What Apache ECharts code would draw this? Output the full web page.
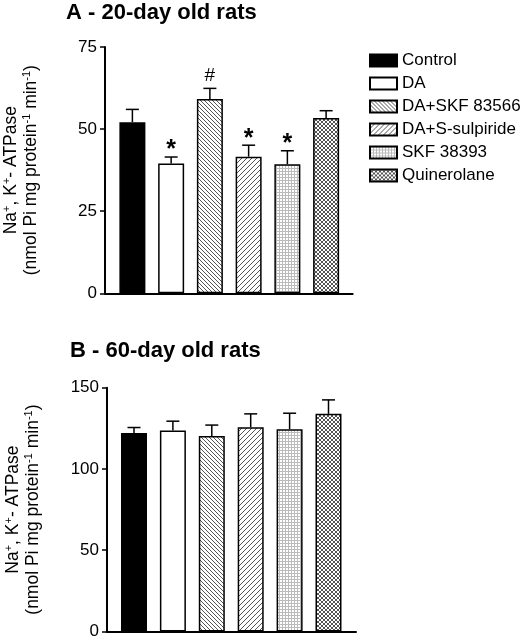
<!DOCTYPE html>
<html>
<head>
<meta charset="utf-8">
<script src="https://cdn.jsdelivr.net/npm/echarts@6/dist/echarts.min.js"></script>
<style>
html,body{margin:0;padding:0;background:#fff;}
#chart{width:522px;height:640px;}
</style>
</head>
<body>
<div id="chart"></div>
<script>
// ---- data ----
var groups = ['Control', 'DA', 'DA+SKF 83566', 'DA+S-sulpiride', 'SKF 38393', 'Quinerolane'];
var positions = [1, 2, 3, 4, 5, 6];
var day20Mean = [52.1, 39.5, 59.2, 41.6, 39.3, 53.4];
var day20Err = [3.9, 2.0, 3.2, 3.5, 4.1, 2.2];
var day20Marks = ['', '*', '#', '*', '*', ''];
var day60Mean = [122.1, 123.7, 120.3, 125.7, 124.5, 133.9];
var day60Err = [3.4, 5.7, 6.7, 8.2, 9.8, 8.6];
var day60Marks = ['', '', '', '', '', ''];
var yTicksA = [0, 25, 50, 75];
var yTicksB = [0, 50, 100, 150];

var FONT = '"Liberation Sans", Arial, Helvetica, sans-serif';

function makePattern(size, draw) {
  var c = document.createElement('canvas');
  c.width = size; c.height = size;
  var ctx = c.getContext('2d');
  ctx.fillStyle = '#fff';
  ctx.fillRect(0, 0, size, size);
  draw(ctx, size);
  return { image: c, repeat: 'repeat' };
}
function px(ctx, x, y, col) { ctx.fillStyle = col; ctx.fillRect(x, y, 1, 1); }

var fills = [
  '#000',
  '#fff',
  makePattern(4, function (ctx, s) { for (var i = 0; i < s; i++) px(ctx, i, i, '#555'); }),
  makePattern(5, function (ctx, s) { for (var i = 0; i < s; i++) { px(ctx, s - 1 - i, i, '#555'); } }),
  makePattern(3, function (ctx, s) { for (var i = 0; i < s; i++) { px(ctx, 0, i, '#bbb'); px(ctx, i, 0, '#bbb'); } }),
  makePattern(4, function (ctx, s) { for (var i = 0; i < s; i++) { px(ctx, i, i, '#555'); px(ctx, s - 1 - i, i, '#555'); } })
];

var chart = echarts.init(document.getElementById('chart'), null, { renderer: 'canvas' });

function yName() {
  return '{n|Na}{s|+}{n|, K}{s|+}{n|- ATPase}\n{n|(nmol Pi mg protein}{s|-1}{n| min}{s|-1}{n|)}';
}
var nameStyle = {
  fontFamily: FONT, color: '#000',
  rich: {
    n: { fontSize: 17.5, fontFamily: FONT, color: '#000', lineHeight: 20 },
    s: { fontSize: 11, fontFamily: FONT, color: '#000', lineHeight: 20, verticalAlign: 'top', padding: [0, 0, 8, 0] }
  }
};

function yAxis(idx, max, interval) {
  return {
    type: 'value', gridIndex: idx, min: 0, max: max, interval: interval,
    name: yName(), nameLocation: 'middle', nameRotate: 90, nameGap: 64,
    nameTextStyle: nameStyle,
    axisLine: { show: true, lineStyle: { color: '#000', width: 2 } },
    axisTick: { show: true, length: 5, lineStyle: { color: '#000', width: 1.5 } },
    axisLabel: { color: '#000', fontSize: 17, fontFamily: FONT, margin: 8 },
    splitLine: { show: false }
  };
}
function xAxis(idx, min, max) {
  return {
    type: 'value', gridIndex: idx, min: min, max: max,
    axisLine: { show: true, onZero: false, lineStyle: { color: '#000', width: 2 } },
    axisTick: { show: false }, axisLabel: { show: false }, splitLine: { show: false }
  };
}

var series = [];
function addBars(gridIdx, means) {
  groups.forEach(function (g, i) {
    series.push({
      type: 'bar', name: g, xAxisIndex: gridIdx, yAxisIndex: gridIdx,
      barWidth: 26, barGap: '-100%',
      itemStyle: { color: fills[i], borderColor: '#000', borderWidth: 1.5 },
      data: [[positions[i], means[i]]],
      silent: true, animation: false
    });
  });
}
function addErrors(gridIdx, means, errs, marks) {
  series.push({
    type: 'custom', xAxisIndex: gridIdx, yAxisIndex: gridIdx, silent: true, animation: false,
    data: positions.map(function (p, i) { return [p, means[i], means[i] + errs[i], i]; }),
    renderItem: function (params, api) {
      var i = api.value(3);
      var base = api.coord([api.value(0), api.value(1)]);
      var top = api.coord([api.value(0), api.value(2)]);
      var children = [
        { type: 'line', shape: { x1: base[0], y1: base[1], x2: top[0], y2: top[1] }, style: { stroke: '#000', lineWidth: 1.5 } },
        { type: 'line', shape: { x1: top[0] - 6.5, y1: top[1], x2: top[0] + 6.5, y2: top[1] }, style: { stroke: '#000', lineWidth: 1.5 } }
      ];
      var m = marks[i];
      if (m) {
        children.push({
          type: 'text',
          style: {
            text: m, x: top[0], y: m === '*' ? top[1] + 6 : top[1] - 3,
            align: 'center', verticalAlign: 'bottom',
            font: (m === '*' ? 'bold 25px ' : '19px ') + FONT, fill: '#000'
          }
        });
      }
      return { type: 'group', children: children };
    }
  });
}
addBars(0, day20Mean);
addErrors(0, day20Mean, day20Err, day20Marks);
addBars(1, day60Mean);
addErrors(1, day60Mean, day60Err, day60Marks);

chart.setOption({
  animation: false,
  backgroundColor: '#fff',
  title: [
    { text: 'A - 20-day old rats', left: 61, top: -3, textStyle: { fontSize: 22, fontWeight: 'bold', color: '#000', fontFamily: FONT } },
    { text: 'B - 60-day old rats', left: 65, top: 335, textStyle: { fontSize: 22, fontWeight: 'bold', color: '#000', fontFamily: FONT } }
  ],
  legend: {
    orient: 'vertical', left: 369, top: 52, padding: 0,
    itemWidth: 27, itemHeight: 12, itemGap: 6, itemTextGap: 4,
    icon: 'rect',
    textStyle: { fontSize: 17, color: '#000', fontFamily: FONT, lineHeight: 17 },
    data: groups, selectedMode: false
  },
  grid: [
    { left: 104, top: 47, width: 248.7, height: 246.3 },
    { left: 107, top: 387.7, width: 249, height: 245 }
  ],
  xAxis: [xAxis(0, 0.293, 6.686), xAxis(1, 0.306, 6.707)],
  yAxis: [yAxis(0, yTicksA[yTicksA.length - 1], yTicksA[1] - yTicksA[0]), yAxis(1, yTicksB[yTicksB.length - 1], yTicksB[1] - yTicksB[0])],
  series: series
});
</script>
</body>
</html>
